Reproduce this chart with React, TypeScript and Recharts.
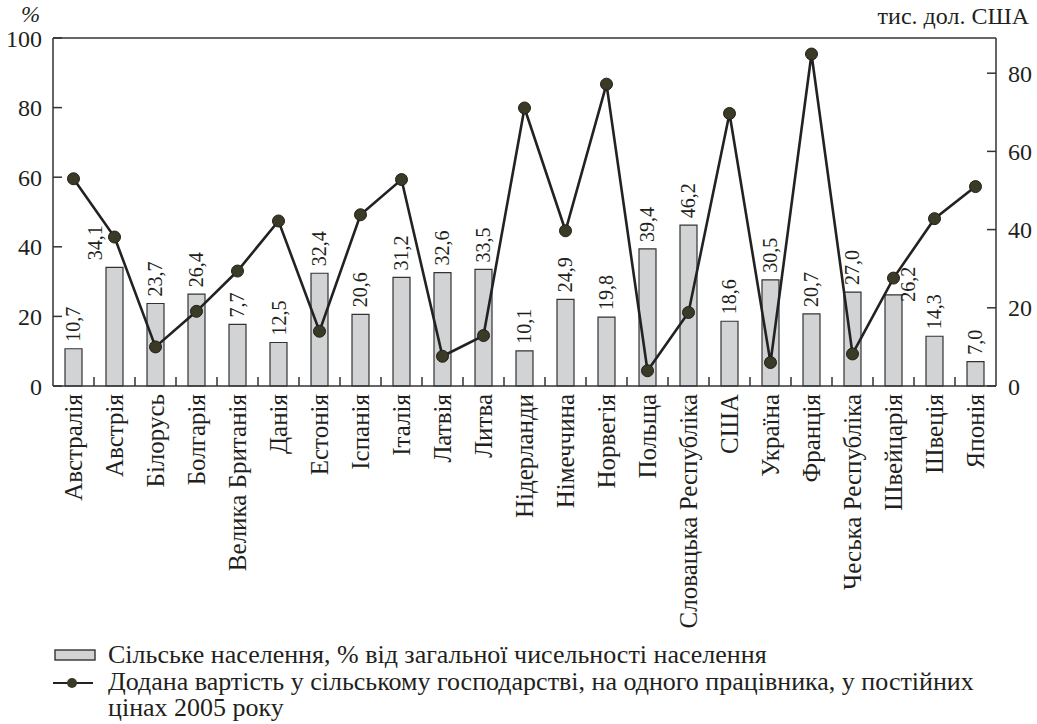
import React from "react";
import {
  Bar,
  ComposedChart,
  LabelList,
  Line,
  ReferenceLine,
  XAxis,
  YAxis,
} from "recharts";

// Країни (категорії осі X)
const countries = [
  "Австралія",
  "Австрія",
  "Білорусь",
  "Болгарія",
  "Велика Британія",
  "Данія",
  "Естонія",
  "Іспанія",
  "Італія",
  "Латвія",
  "Литва",
  "Нідерланди",
  "Німеччина",
  "Норвегія",
  "Польща",
  "Словацька Республіка",
  "США",
  "Україна",
  "Франція",
  "Чеська Республіка",
  "Швейцарія",
  "Швеція",
  "Японія",
];

// Сільське населення, % (висота стовпчиків)
const ruralShare = [
  10.7, 34.1, 23.7, 26.4, 17.7, 12.5, 32.4, 20.6, 31.2, 32.6, 33.5, 10.1,
  24.9, 19.8, 39.4, 46.2, 18.6, 30.5, 20.7, 27.0, 26.2, 14.3, 7.0,
];

// Підписи над стовпчиками (як у джерелі)
const ruralLabels = [
  "10,7", "34,1", "23,7", "26,4", "7,7", "12,5", "32,4", "20,6", "31,2",
  "32,6", "33,5", "10,1", "24,9", "19,8", "39,4", "46,2", "18,6", "30,5",
  "20,7", "27,0", "26,2", "14,3", "7,0",
];

// Додана вартість на одного працівника, тис. дол. США
const valueAdded = [
  53.0, 38.1, 10.0, 19.1, 29.4, 42.2, 14.0, 43.8, 52.8, 7.6, 12.9, 71.1,
  39.7, 77.2, 3.9, 18.8, 69.7, 6.0, 84.9, 8.2, 27.6, 42.8, 51.0,
];

const leftTicks = [0, 20, 40, 60, 80, 100];
const rightTicks = [0, 20, 40, 60, 80];

const data = countries.map((name, i) => ({
  name,
  rural: ruralShare[i],
  va: valueAdded[i],
}));

const FONT = "'Liberation Serif', 'DejaVu Serif', serif";
const INK = "#231f20";
const AXIS = "#333";
const BAR_FILL = "#d2d3d5";
const DOT_FILL = "#3b3a26";

// підписи, що відсунуті від лінії, як в оригіналі
const labelNudge: Record<string, { dx: number; dy: number }> = {
  "Австрія": { dx: -19, dy: 0 },
  "Швейцарія": { dx: 15, dy: 14 },
};

function CountryTick(props: any) {
  const { x, y, payload, index } = props;
  const half = payload?.offset ?? 0;
  const axisY = y - 8;
  return (
    <g>
      {index < countries.length - 1 && (
        <line
          x1={x + half}
          x2={x + half}
          y1={axisY}
          y2={axisY - 9}
          stroke={AXIS}
          strokeWidth={1.5}
        />
      )}
      <text
        x={x}
        y={y}
        transform={`rotate(-90, ${x}, ${y})`}
        textAnchor="end"
        dominantBaseline="central"
        fontFamily={FONT}
        fontSize={25}
        fill={INK}
      >
        {payload.value}
      </text>
    </g>
  );
}

function BarValue(props: any) {
  const { x, y, width, index } = props;
  const nudge = labelNudge[countries[index]] || { dx: 0, dy: 0 };
  const cx = x + width / 2 + nudge.dx;
  const ty = y - 7 + nudge.dy;
  return (
    <text
      x={cx}
      y={ty}
      transform={`rotate(-90, ${cx}, ${ty})`}
      textAnchor="start"
      dominantBaseline="central"
      fontFamily={FONT}
      fontSize={20}
      fill={INK}
    >
      {ruralLabels[index]}
    </text>
  );
}

function Dot(props: any) {
  const { cx, cy } = props;
  if (cx == null || cy == null) return null;
  return <circle cx={cx} cy={cy} r={6} fill={DOT_FILL} stroke="#1f1f1a" strokeWidth={1} />;
}

const tickStyle = { fontFamily: FONT, fontSize: 24, fill: INK };

export default function App() {
  return (
    <div
      style={{
        position: "absolute",
        left: 0,
        top: 0,
        width: 1037,
        height: 724,
        background: "#fff",
        fontFamily: FONT,
        color: INK,
      }}
    >
      <div style={{ position: "absolute", left: 21, top: 2, fontSize: 23, fontStyle: "italic" }}>%</div>
      <div style={{ position: "absolute", right: 8, top: 3, fontSize: 24 }}>тис. дол. США</div>
      <ComposedChart
        width={1037}
        height={640}
        data={data}
        margin={{ top: 38, right: 0, left: 0, bottom: 0 }}
      >
        <XAxis
          xAxisId="cat"
          dataKey="name"
          interval={0}
          height={254}
          tickLine={false}
          tickSize={0}
          tickMargin={8}
          axisLine={{ stroke: AXIS, strokeWidth: 1.5 }}
          tick={<CountryTick />}
        />
        <YAxis
          yAxisId="left"
          domain={[0, 100]}
          ticks={leftTicks}
          width={53}
          tickSize={-9}
          tickMargin={20}
          tick={tickStyle}
          tickLine={{ stroke: AXIS, strokeWidth: 1.5 }}
          axisLine={{ stroke: AXIS, strokeWidth: 1.5 }}
        />
        <YAxis
          yAxisId="right"
          orientation="right"
          domain={[0, 89]}
          ticks={rightTicks}
          width={41}
          tickSize={-9}
          tickMargin={21}
          tick={tickStyle}
          tickLine={{ stroke: AXIS, strokeWidth: 1.5 }}
          axisLine={{ stroke: AXIS, strokeWidth: 1.5 }}
        />
        <ReferenceLine xAxisId="cat" yAxisId="left" y={100} stroke={AXIS} strokeWidth={1.5} />
        <Bar
          xAxisId="cat"
          yAxisId="left"
          dataKey="rural"
          barSize={17}
          fill={BAR_FILL}
          stroke={AXIS}
          strokeWidth={1.2}
          isAnimationActive={false}
        >
          <LabelList dataKey="rural" content={<BarValue />} />
        </Bar>
        <Line
          xAxisId="cat"
          yAxisId="right"
          dataKey="va"
          type="linear"
          stroke="#222"
          strokeWidth={2.6}
          dot={<Dot />}
          activeDot={false}
          isAnimationActive={false}
        />
      </ComposedChart>
      <div style={{ position: "absolute", left: 53, top: 642, fontSize: 26, lineHeight: "26.5px" }}>
        <div style={{ display: "flex", alignItems: "center" }}>
          <svg width={44} height={14} style={{ marginRight: 11, flex: "none" }}>
            <rect x={2} y={2} width={40} height={10} fill={BAR_FILL} stroke={AXIS} strokeWidth={1.4} />
          </svg>
          <span>Сільське населення, % від загальної чисельності населення</span>
        </div>
        <div style={{ display: "flex", alignItems: "flex-start" }}>
          <svg width={42} height={26} style={{ marginRight: 13, flex: "none" }}>
            <line x1={0} x2={40} y1={14} y2={14} stroke="#222" strokeWidth={2} />
            <circle cx={19} cy={14} r={5} fill={DOT_FILL} />
          </svg>
          <span style={{ width: 890 }}>
            Додана вартість у сільському господарстві, на одного працівника, у постійних цінах 2005 року
          </span>
        </div>
      </div>
    </div>
  );
}
